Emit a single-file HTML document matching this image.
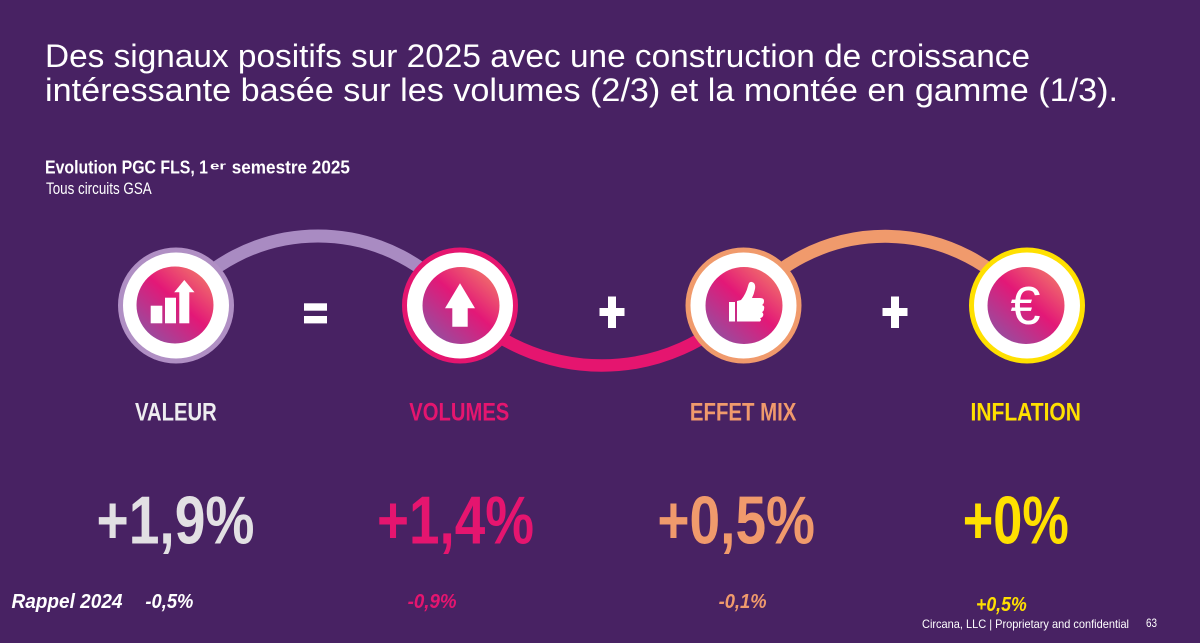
<!DOCTYPE html>
<html>
<head>
<meta charset="utf-8">
<style>
  html,body{margin:0;padding:0;background:#482263;}
  svg{display:block;}
  text{font-family:"Liberation Sans", sans-serif;}
</style>
</head>
<body>
<svg width="1200" height="643" viewBox="0 0 1200 643" xmlns="http://www.w3.org/2000/svg">
  <defs>
    <linearGradient id="g" x1="0.85" y1="0.1" x2="0.15" y2="0.9">
      <stop offset="0" stop-color="#f06a6c"/>
      <stop offset="0.45" stop-color="#e31877"/>
      <stop offset="1" stop-color="#9a4b9e"/>
    </linearGradient>
  </defs>
  <rect width="1200" height="643" fill="#482263"/>

  <!-- Title -->
  <text x="45" y="67" font-size="32" fill="#ffffff" textLength="985" lengthAdjust="spacingAndGlyphs">Des signaux positifs sur 2025 avec une construction de croissance</text>
  <text x="45" y="101" font-size="32" fill="#ffffff" textLength="1073" lengthAdjust="spacingAndGlyphs">intéressante basée sur les volumes (2/3) et la montée en gamme (1/3).</text>

  <!-- Subtitle -->
  <text x="45" y="173.5" font-size="18.5" font-weight="bold" fill="#ffffff" textLength="163" lengthAdjust="spacingAndGlyphs">Evolution PGC FLS, 1</text>
  <text x="210" y="169.5" font-size="11" font-weight="bold" fill="#ffffff" textLength="16" lengthAdjust="spacingAndGlyphs">er</text>
  <text x="231.7" y="173.5" font-size="18.5" font-weight="bold" fill="#ffffff" textLength="118.3" lengthAdjust="spacingAndGlyphs">semestre 2025</text>
  <text x="46" y="194" font-size="16.5" fill="#ffffff" textLength="105.7" lengthAdjust="spacingAndGlyphs">Tous circuits GSA</text>

  <!-- Arcs -->
  <path d="M176,305.5 A179.8,179.8 0 0 1 460,305.5" fill="none" stroke="#a98bc2" stroke-width="13"/>
  <path d="M460,305.5 A197.4,197.4 0 0 0 743.5,305.5" fill="none" stroke="#e5156f" stroke-width="12.5"/>
  <path d="M743.5,305.5 A179.8,179.8 0 0 1 1027,305.5" fill="none" stroke="#f09a6c" stroke-width="13"/>

  <!-- Circle 1 -->
  <circle cx="176" cy="305.5" r="58" fill="#b08fc4"/>
  <circle cx="176" cy="305.5" r="53" fill="#ffffff"/>
  <circle cx="175" cy="305" r="38.5" fill="url(#g)"/>
  <rect x="150.7" y="305.7" width="11.6" height="17.6" fill="#fff"/>
  <rect x="165" y="297.7" width="11" height="25.6" fill="#fff"/>
  <rect x="179.3" y="291" width="10" height="32.3" fill="#fff"/>
  <polygon points="184.3,280 194.5,292.3 174.2,292.3" fill="#fff"/>

  <!-- Circle 2 -->
  <circle cx="460" cy="305.5" r="58" fill="#e5156f"/>
  <circle cx="460" cy="305.5" r="53" fill="#ffffff"/>
  <circle cx="461" cy="305.5" r="38.5" fill="url(#g)"/>
  <polygon points="460,283.3 475,308.3 467.7,308.3 467.7,326.7 452.3,326.7 452.3,308.3 445,308.3" fill="#fff"/>

  <!-- Circle 3 -->
  <circle cx="743.5" cy="305.5" r="58" fill="#f09a6c"/>
  <circle cx="743.5" cy="305.5" r="53" fill="#ffffff"/>
  <circle cx="744" cy="305.5" r="38.5" fill="url(#g)"/>
  <rect x="729" y="302" width="6" height="19.5" fill="#fff"/>
  <path d="M737,301 L741,300 Q746,294 748,286 Q749,281 752,282 Q756,283 755,289 Q754,294 752,298 L760,298 Q764,298 764,301 Q764,304 762,305 Q765,306 764,309 Q764,311 762,312 Q764,314 763,316 Q762,318 760,318 Q762,320 760,321.5 L737,321.5 Z" fill="#fff"/>

  <!-- Circle 4 -->
  <circle cx="1027" cy="305.5" r="58" fill="#ffe000"/>
  <circle cx="1027" cy="305.5" r="53" fill="#ffffff"/>
  <circle cx="1026" cy="305.5" r="38.5" fill="url(#g)"/>
  <text x="1025.5" y="324" font-size="54" fill="#ffffff" text-anchor="middle">€</text>

  <!-- Operators -->
  <rect x="304" y="303.3" width="23" height="7.4" fill="#fff"/>
  <rect x="304" y="316" width="23" height="7.4" fill="#fff"/>
  <rect x="599.5" y="308" width="25" height="8" fill="#fff"/>
  <rect x="608" y="296.5" width="8" height="31.5" fill="#fff"/>
  <rect x="882.5" y="308" width="25" height="8" fill="#fff"/>
  <rect x="891" y="296.5" width="8" height="31.5" fill="#fff"/>

  <!-- Labels -->
  <text x="135" y="420.7" font-size="25" font-weight="bold" fill="#eeedf0" textLength="81.7" lengthAdjust="spacingAndGlyphs">VALEUR</text>
  <text x="409.3" y="420.7" font-size="25" font-weight="bold" fill="#e5156f" textLength="100" lengthAdjust="spacingAndGlyphs">VOLUMES</text>
  <text x="689.9" y="420.7" font-size="25" font-weight="bold" fill="#f09a6c" textLength="106.5" lengthAdjust="spacingAndGlyphs">EFFET MIX</text>
  <text x="970.5" y="420.7" font-size="25" font-weight="bold" fill="#ffe000" textLength="110.4" lengthAdjust="spacingAndGlyphs">INFLATION</text>

  <!-- Big numbers -->
  <text x="96.5" y="543.5" font-size="68" font-weight="bold" fill="#e2e0e3" textLength="158" lengthAdjust="spacingAndGlyphs">+1,9%</text>
  <text x="377" y="543.5" font-size="68" font-weight="bold" fill="#e5156f" textLength="157" lengthAdjust="spacingAndGlyphs">+1,4%</text>
  <text x="657.4" y="543.5" font-size="68" font-weight="bold" fill="#f09a6c" textLength="157.6" lengthAdjust="spacingAndGlyphs">+0,5%</text>
  <text x="962.8" y="543.5" font-size="68" font-weight="bold" fill="#ffe000" textLength="106" lengthAdjust="spacingAndGlyphs">+0%</text>

  <!-- Rappel row -->
  <text x="11.5" y="608" font-size="20.5" font-weight="bold" font-style="italic" fill="#ffffff" textLength="111" lengthAdjust="spacingAndGlyphs">Rappel 2024</text>
  <text x="145.4" y="608" font-size="20.5" font-weight="bold" font-style="italic" fill="#ffffff" textLength="48" lengthAdjust="spacingAndGlyphs">-0,5%</text>
  <text x="407.6" y="608" font-size="20.5" font-weight="bold" font-style="italic" fill="#e5156f" textLength="49" lengthAdjust="spacingAndGlyphs">-0,9%</text>
  <text x="718.6" y="608" font-size="20.5" font-weight="bold" font-style="italic" fill="#f09a6c" textLength="48" lengthAdjust="spacingAndGlyphs">-0,1%</text>
  <text x="976" y="611" font-size="20.5" font-weight="bold" font-style="italic" fill="#ffe000" textLength="50.7" lengthAdjust="spacingAndGlyphs">+0,5%</text>

  <!-- Footer -->
  <text x="922" y="628" font-size="12" fill="#ffffff" textLength="207" lengthAdjust="spacingAndGlyphs">Circana, LLC  |  Proprietary and confidential</text>
  <text x="1146" y="627" font-size="11.5" fill="#ffffff" textLength="11" lengthAdjust="spacingAndGlyphs">63</text>
</svg>
</body>
</html>
